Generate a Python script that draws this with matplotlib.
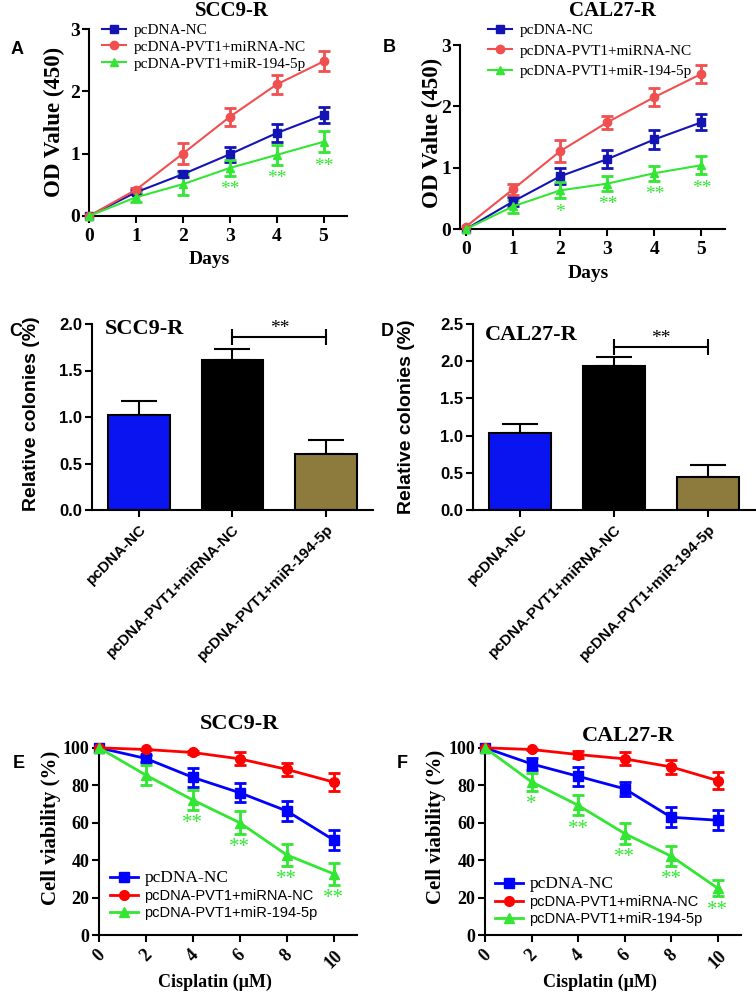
import matplotlib.pyplot as plt
import numpy as np

plt.rcParams['font.family'] = ['Liberation Serif', 'DejaVu Serif']
plt.rcParams['axes.linewidth'] = 1.5

W, H = 756, 992

names = ['pcDNA-NC', 'pcDNA-PVT1+miRNA-NC', 'pcDNA-PVT1+miR-194-5p']

# A / B: OD450 over days
days = [0, 1, 2, 3, 4, 5]
a_nc = [0, 0.38, 0.67, 0.99, 1.33, 1.62]
a_nc_err = [0, 0.03, 0.05, 0.12, 0.14, 0.13]
a_pvt = [0, 0.42, 1.0, 1.59, 2.11, 2.48]
a_pvt_err = [0, 0.03, 0.17, 0.15, 0.16, 0.16]
a_mir = [0, 0.30, 0.51, 0.77, 0.98, 1.19]
a_mir_err = [0, 0.08, 0.17, 0.13, 0.16, 0.17]
a_sig = ['', '', '', '**', '**', '**']

b_nc = [0, 0.45, 0.86, 1.14, 1.46, 1.74]
b_nc_err = [0, 0.07, 0.13, 0.15, 0.15, 0.13]
b_pvt = [0.04, 0.65, 1.27, 1.74, 2.15, 2.53]
b_pvt_err = [0, 0.09, 0.18, 0.11, 0.15, 0.15]
b_mir = [0, 0.37, 0.63, 0.74, 0.91, 1.04]
b_mir_err = [0, 0.11, 0.13, 0.12, 0.12, 0.15]
b_sig = ['', '', '*', '**', '**', '**']

# C / D: relative colonies
c_vals = [1.02, 1.61, 0.60]
c_errs = [0.155, 0.12, 0.15]
c_bracket = 1.86
d_vals = [1.04, 1.93, 0.45]
d_errs = [0.12, 0.12, 0.16]
d_bracket = 2.19

# E / F: viability vs cisplatin
dose = [0, 2, 4, 6, 8, 10]
e_nc = [100, 94.3, 84.2, 76.0, 66.3, 50.8]
e_nc_err = [0, 1.8, 4.9, 5.2, 5.5, 5.3]
e_pvt = [100, 99.1, 97.5, 94.1, 88.5, 81.7]
e_pvt_err = [0, 0.5, 1.0, 3.5, 3.4, 5.0]
e_mir = [100, 85.4, 72.1, 60.0, 42.8, 32.7]
e_mir_err = [0, 5.3, 5.3, 6.0, 5.9, 5.8]
e_sig = ['', '', '**', '**', '**', '**']

f_nc = [100, 91.4, 84.8, 78.1, 62.9, 61.3]
f_nc_err = [0, 3.0, 5.0, 3.7, 5.3, 5.3]
f_pvt = [100, 99.1, 96.4, 94.1, 89.8, 82.5]
f_pvt_err = [0, 0.5, 2.0, 3.4, 3.8, 4.5]
f_mir = [100, 81.8, 69.3, 54.2, 42.1, 25.0]
f_mir_err = [0, 4.7, 5.3, 5.6, 5.2, 4.3]
f_sig = ['', '*', '**', '**', '**', '**']

SERIF = 'Liberation Serif'
SANS = 'Liberation Sans'

fig = plt.figure(figsize=(W / 100, H / 100), dpi=100)


def add_ax(l, t, r, b):
    ax = fig.add_axes([l / W, 1 - b / H, (r - l) / W, (b - t) / H])
    ax.spines['top'].set_visible(False)
    ax.spines['right'].set_visible(False)
    return ax


def ftext(x, y, s, **kw):
    fig.text(x / W, 1 - y / H, s, ha='center', va='center', **kw)


def line_panel(ax, x, series, colors, markers, ms, lw, sig, star_size):
    handles = []
    for (m, e), c, mk in zip(series, colors, markers):
        h, = ax.plot(x, m, color=c, marker=mk, ms=ms, lw=lw, clip_on=False, zorder=3)
        handles.append(h)
        idx = np.array(e) > 0
        ax.errorbar(np.array(x)[idx], np.array(m)[idx], yerr=np.array(e)[idx], fmt='none',
                    ecolor=c, elinewidth=2, capsize=4, capthick=2, clip_on=False, zorder=2)
    m, e = series[2]
    for xi, mi, ei, s in zip(x, m, e, sig):
        if s:
            ax.annotate(s, (xi, mi - ei), xytext=(0, -10), textcoords='offset points',
                        ha='center', va='center', color=colors[2], fontsize=star_size,
                        family=SERIF)
    return handles


def bar_panel(ax, vals, errs, bracket, ymax, yticks):
    pos = np.arange(len(vals))
    ax.bar(pos, vals, width=0.66, color=['#0A14F0', '#000000', '#8C7B3C'],
           edgecolor='black', linewidth=1.5, zorder=2)
    ax.errorbar(pos, vals, yerr=[np.zeros(len(errs)), errs], fmt='none', ecolor='black',
                elinewidth=1.5, capsize=13, capthick=1.5, zorder=1)
    ax.plot(pos[1:], [bracket, bracket], color='black', lw=1.5, marker='|', ms=11, mew=1.5)
    ax.annotate('**', (pos[1:].mean(), bracket), xytext=(0, 6), textcoords='offset points',
                ha='center', va='center', fontsize=14, family=SERIF)
    ax.set_xlim(-0.5, 2.5)
    ax.set_ylim(0, ymax)
    ax.set_yticks(yticks)
    ax.set_yticklabels([f'{t:.1f}' for t in yticks], family=SANS, weight='bold', fontsize=12)
    ax.set_xticks(pos)
    ax.set_xticklabels(names, rotation=45, ha='right', rotation_mode='anchor',
                       family=SANS, weight='bold', fontsize=11)
    ax.tick_params(width=1.5, length=5, direction='out')
    ax.tick_params(axis='y', pad=2)


# ---- A ----
axA = add_ax(89, 29, 347, 216)
hA = line_panel(axA, days, [(a_nc, a_nc_err), (a_pvt, a_pvt_err), (a_mir, a_mir_err)],
                ['#1414B4', '#F05050', '#33E633'], ['s', 'o', '^'], 6, 1.5, a_sig, 14)
axA.set_xlim(0, 5.5)
axA.set_ylim(0, 3)
# ---- B ----
axB = add_ax(460, 45, 725, 229)
hB = line_panel(axB, days, [(b_nc, b_nc_err), (b_pvt, b_pvt_err), (b_mir, b_mir_err)],
                ['#1414B4', '#F05050', '#33E633'], ['s', 'o', '^'], 6, 1.5, b_sig, 14)
axB.set_xlim(-0.13, 5.5)
axB.set_ylim(0, 3)

for ax, hs, lx, ly, sp in [(axA, hA, 102, 47, 0.2), (axB, hB, 488, 51, 0.45)]:
    ax.set_xticks(days)
    ax.set_yticks([0, 1, 2, 3])
    ax.tick_params(labelsize=14, width=1.5, length=5)
    ax.tick_params(axis='y', pad=1.5)
    for t in ax.get_xticklabels() + ax.get_yticklabels():
        t.set_fontweight('bold')
    ax.legend(hs, names, loc='center left', bbox_to_anchor=(lx / W, 1 - ly / H),
              bbox_transform=fig.transFigure, frameon=False, borderpad=0, borderaxespad=0,
              handlelength=1.55, handletextpad=0.5, labelspacing=sp,
              prop=dict(family=SERIF, size=11))

ftext(232, 11, 'SCC9-R', fontsize=15, weight='bold')
ftext(613, 11, 'CAL27-R', fontsize=15, weight='bold')
ftext(209, 259, 'Days', fontsize=14, weight='bold')
ftext(588, 273, 'Days', fontsize=14, weight='bold')
ftext(54, 122, 'OD Value (450)', fontsize=16.5, weight='bold', rotation=90)
ftext(432, 133, 'OD Value (450)', fontsize=16.5, weight='bold', rotation=90)

# ---- C / D ----
axC = add_ax(92, 324, 373, 510)
bar_panel(axC, c_vals, c_errs, c_bracket, 2.0, [0.0, 0.5, 1.0, 1.5, 2.0])
axD = add_ax(473, 324, 755, 510)
bar_panel(axD, d_vals, d_errs, d_bracket, 2.5, [0.0, 0.5, 1.0, 1.5, 2.0, 2.5])
fig.text(105 / W, 1 - 329 / H, 'SCC9-R', ha='left', va='center', fontsize=16, weight='bold')
fig.text(485 / W, 1 - 335 / H, 'CAL27-R', ha='left', va='center', fontsize=16, weight='bold')
ftext(32, 414, 'Relative colonies (%)', fontsize=14, weight='bold', rotation=90, family=SANS)
ftext(406, 417, 'Relative colonies (%)', fontsize=14, weight='bold', rotation=90, family=SANS)

# ---- E / F ----
axE = add_ax(99, 745, 357, 935)
hE = line_panel(axE, dose, [(e_nc, e_nc_err), (e_pvt, e_pvt_err), (e_mir, e_mir_err)],
                ['#0000FF', '#FF0000', '#33E633'], ['s', 'o', '^'], 7, 2, e_sig, 15)
axF = add_ax(485, 745, 741, 935)
hF = line_panel(axF, dose, [(f_nc, f_nc_err), (f_pvt, f_pvt_err), (f_mir, f_mir_err)],
                ['#0000FF', '#FF0000', '#33E633'], ['s', 'o', '^'], 7, 2, f_sig, 15)
for ax, hs, lx, ly in [(axE, hE, 110, 895), (axF, hF, 495, 901)]:
    ax.set_xlim(0, 11)
    ax.set_ylim(0, 101.5)
    ax.set_xticks(dose)
    ax.set_yticks([0, 20, 40, 60, 80, 100])
    ax.tick_params(labelsize=13, width=1.5, length=5)
    ax.tick_params(axis='y', pad=2)
    for t in ax.get_xticklabels():
        t.set_rotation(45)
        t.set_fontweight('bold')
    for t in ax.get_yticklabels():
        t.set_fontweight('bold')
    leg = ax.legend(hs, names, loc='center left', bbox_to_anchor=(lx / W, 1 - ly / H),
                    bbox_transform=fig.transFigure, frameon=False, borderpad=0, borderaxespad=0,
                    handlelength=1.9, handletextpad=0.45, labelspacing=0.2,
                    prop=dict(family=SANS, size=10.5))
    leg.get_texts()[0].set_fontfamily(SERIF)
    leg.get_texts()[0].set_fontsize(12.5)

ftext(239, 724, 'SCC9-R', fontsize=16, weight='bold')
ftext(628, 736, 'CAL27-R', fontsize=16, weight='bold')
ftext(215, 982, 'Cisplatin (μM)', fontsize=13, weight='bold')
ftext(600, 982, 'Cisplatin (μM)', fontsize=13, weight='bold')
ftext(51, 828, 'Cell viability (%)', fontsize=15, weight='bold', rotation=90)
ftext(436, 827, 'Cell viability (%)', fontsize=15, weight='bold', rotation=90)

# panel letters
for s, x, y in [('A', 17, 49), ('B', 389, 48), ('C', 16, 331), ('D', 387, 332),
                ('E', 19, 764), ('F', 402, 764)]:
    ftext(x, y, s, fontsize=13, weight='bold', family=SANS)

fig.savefig('out.png', dpi=100)
